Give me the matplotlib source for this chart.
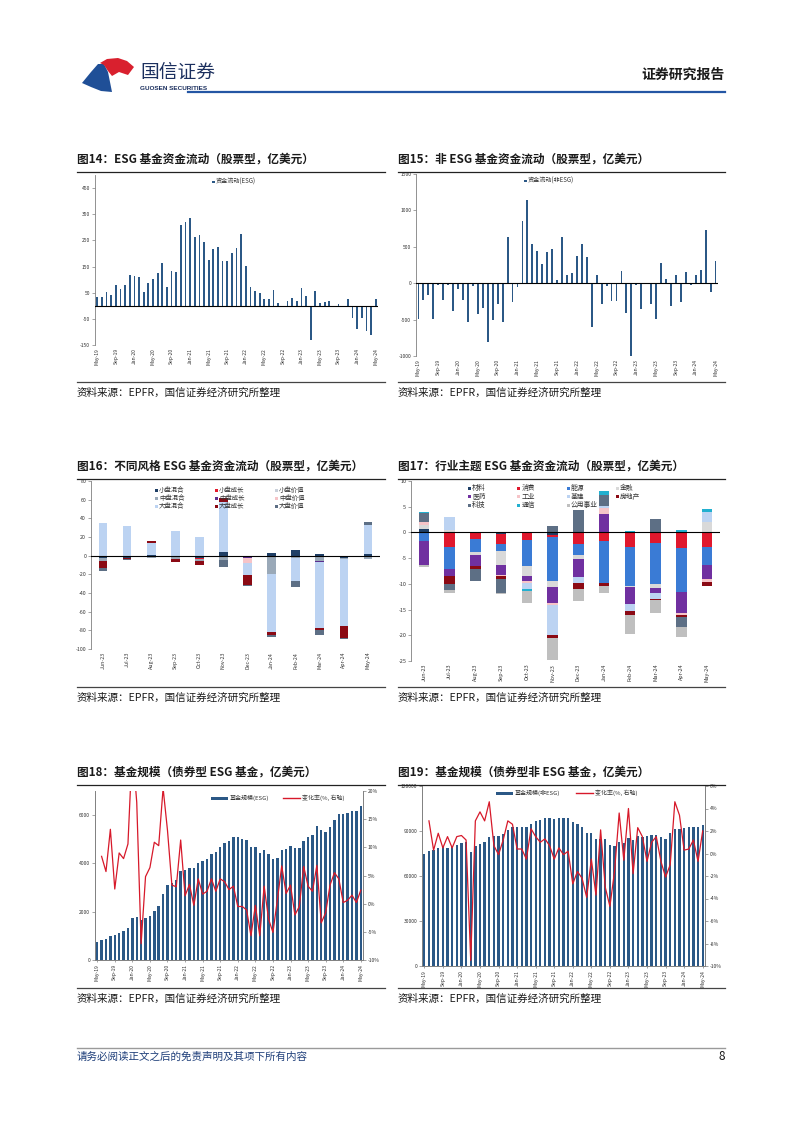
import numpy as np
import pandas as pd
import matplotlib
matplotlib.use('Agg')
import matplotlib.pyplot as plt
from matplotlib.patches import Rectangle, Polygon
from matplotlib.lines import Line2D

plt.rcParams['font.family'] = ['Noto Sans CJK SC', 'DejaVu Sans']
plt.rcParams['axes.unicode_minus'] = False

##############################################
## 数据
##############################################
months = list(pd.date_range('2019-05-01', periods=61, freq='MS').strftime('%b-%y'))
months12 = ['Jun-23', 'Jul-23', 'Aug-23', 'Sep-23', 'Oct-23', 'Nov-23',
            'Dec-23', 'Jan-24', 'Feb-24', 'Mar-24', 'Apr-24', 'May-24']

# 图14 ESG 股票型资金流动
esg_flow = [33, 32, 52, 41, 79, 66, 80, 118, 113, 111,
            54, 87, 104, 125, 163, 71, 132, 130, 308, 321,
            336, 262, 271, 243, 176, 218, 225, 173, 172, 200,
            220, 274, 152, 71, 56, 50, 27, 27, 62, 11,
            -3, 20, 29, 19, 68, 38, -131, 55, 11, 15,
            17, -3, 5, -4, 25, -45, -89, -48, -98, -111,
            25]

# 图15 非ESG 股票型资金流动
nonesg_flow = [-490, -225, -165, -486, -28, -225, -18, -380, -78, -234,
               -532, -41, -422, -340, -807, -505, -289, -537, 633, -261,
               -55, 858, 1138, 541, 436, 257, 422, 463, 50, 633,
               119, 142, 367, 541, 362, -596, 119, -289, -32, -238,
               -248, 170, -404, -1000, -18, -353, -5, -289, -495, 284,
               55, -316, 115, -252, 147, -23, 106, 188, 729, -119,
               307]

# 图16 不同风格
style_names = ['小盘混合', '小盘成长', '小盘价值', '中盘混合', '中盘成长', '中盘价值',
               '大盘混合', '大盘成长', '大盘价值']
small_blend = [-2, -3, 1, -1, -3, 3.5, 0, 2.5, 6.5, 2, -2, 2]
small_growth = [0, 0, 0, 0, -0.5, 0, 0, 0, 0, 0, 0, 0]
small_value = [0, 0, 0, 0, 0, 0.5, 0, 0, 0, 0, 0, 0]
mid_blend = [-3.5, 0, -2, -3, -2, -5, -1, -20, -2, -6, -2, -3.5]
mid_growth = [0, 0, 0, 0, 0, 0, -1.5, 0, 0, -1, 0, 0]
mid_value = [-0.5, 0, 0, 0, 0, 0, -5.5, 0, 0, 0, 0, 0]
large_blend = [35, 32, 13, 26, 20.5, 53, -12.5, -62, -25, -70, -71, 31]
large_growth = [-7, -1, 2, -3, -4, 5, -10.5, -3, 0, -3, -13, 0]
large_value = [-3, -1, -0.5, 0, 0, -7, -1, -2.5, -7, -4.5, -1.5, 3]

# 图17 行业主题
sector_names = ['材料', '消费', '能源', '金融', '医药', '工业', '基建', '房地产', '科技', '通信', '公用事业']
materials = [0.6, 0, 0, -0.3, 0, -0.5, 0, 0, 0, 0, 0, 0]
consumer = [0, -2.9, -1.2, -2.0, -1.4, -0.3, -2.3, -1.6, -2.8, -2.1, -3.0, -2.8]
energy = [-1.6, -4.2, -2.6, -1.3, -5.1, -8.7, -2.1, -8.3, -7.6, -8.0, -8.6, -3.6]
finance = [0.8, 0.5, -0.5, -2.8, -1.9, -1.1, -0.8, 0, -0.3, -0.8, 0, 1.95]
pharma = [-4.8, -1.3, -2.2, -1.8, -1.1, -3.2, -3.4, 3.6, -3.3, -0.9, -4.1, -2.7]
industry = [0.7, 0, 0, -0.2, -0.3, -0.3, 0, 1.1, 0, 0, -0.4, -0.5]
infra = [0, 2.5, 0, 0, -1.2, -5.8, -1.3, 0.4, -1.2, -1.1, 0, 2.1]
realestate = [0, -1.7, -0.6, -0.7, 0, -0.7, -1.1, -0.5, -0.9, -0.3, -0.4, -0.8]
tech = [1.6, -1.1, -2.3, -2.6, 0, 1.2, 4.35, 2.2, 0, 2.6, -1.9, 0]
telecom = [0.3, 0, 0, 0, -0.3, 0, 0, 0.7, 0.3, 0, 0.45, 0.6]
utilities = [-0.3, -0.6, 0, -0.3, -2.5, -4.2, -2.3, -1.3, -3.7, -2.4, -1.9, 0]

# 图18 债券型ESG基金规模 / 变化率
esg_bond_aum = [760, 830, 870, 980, 1030, 1120, 1210, 1340, 1740, 1790,
                1650, 1740, 1830, 2030, 2250, 2720, 3100, 3170, 3310, 3670,
                3710, 3830, 3830, 4010, 4080, 4190, 4370, 4480, 4660, 4830,
                4920, 5090, 5080, 5030, 4970, 4700, 4690, 4440, 4570, 4400,
                4170, 4210, 4540, 4590, 4740, 4650, 4630, 4920, 5090, 5170,
                5570, 5380, 5310, 5500, 5810, 6040, 6040, 6100, 6190, 6190,
                6360]
esg_bond_chg = [np.nan, 8.4, 5.7, 13.2, 2.6, 9.0, 8.0, 10.6, 28, 18,
                -7.1, 4.8, 6.4, 10.9, 10.3, 20.5, 13.0, 3.3, 3.0, 11.3,
                1.4, 3.4, -0.3, 4.4, 1.7, 2.2, 4.4, 2.2, 4.4, 3.9,
                2.5, 3.1, -0.5, -0.5, -1.1, -5.7, -0.3, -5.7, 3.1, -2.7,
                -5.1, 0.6, 6.7, 1.8, 3.3, -2.0, -0.5, 6.6, 3.1, 2.2,
                6.8, -3.4, -1.6, 3.3, 5.5, 4.4, 0.2, 0.6, 1.5, 0.2,
                2.4]

# 图19 债券型非ESG基金规模 / 变化率
nonesg_bond_aum = [75000, 77000, 77500, 78500, 79500, 79000, 79500, 81000, 82000, 82500,
                   76000, 80000, 81500, 82500, 86000, 86500, 86500, 88000, 91000, 93000,
                   93000, 93000, 93000, 95000, 96500, 97500, 98500, 98500, 98000, 98500,
                   98500, 98500, 96000, 95000, 92500, 89000, 88500, 85000, 84500, 85000,
                   80500, 80000, 83000, 82000, 85500, 84000, 86500, 86000, 86500, 87500,
                   87500, 86000, 85000, 88500, 91500, 91500, 92000, 93000, 92500, 93000,
                   94000]
nonesg_bond_chg = [np.nan, 2.9, 0.3, 1.8, 0.5, 1.5, 0.5, 1.5, 1.6, 1.2,
                   -9.5, 2.9, 3.7, 2.9, 4.6, 0.7, -0.1, 1.2, 2.9, 2.6,
                   0.4, 0.4, -0.5, 2.2, 1.5, 1.0, 1.3, 0.7, -0.5, 0.5,
                   -0.1, 0.2, -2.7, -1.6, -2.2, -3.9, -0.5, -3.7, 2.1, -3.0,
                   -4.7, -1.6, 3.6, -0.6, 4.0, -1.8, 2.3, 1.5, -0.7, 1.0,
                   1.5, -0.7, -2.1, -1.0, 4.6, 3.4, 0.3, 0.4, 1.2, -0.7,
                   2.0]

##############################################
## 画布 / 工具
##############################################
W, H = 802, 1133
fig = plt.figure(figsize=(W / 100, H / 100), dpi=100)
fig.patch.set_facecolor('white')

BAR = '#2b5886'
RED = '#d7192a'
TXT = '#333333'


def fx(x):
    return x / W


def fy(y):
    return 1 - y / H


def add_ax(x0, y0, x1, y1):
    return fig.add_axes([fx(x0), fy(y1), (x1 - x0) / W, (y1 - y0) / H])


def hline(x0, x1, y, color='black', lw=0.8):
    fig.add_artist(Line2D([fx(x0), fx(x1)], [fy(y), fy(y)], color=color, lw=lw,
                          transform=fig.transFigure))


def box_item(x, y, color, label, fs=5.2, w=3.2, h=3.2):
    fig.add_artist(Rectangle((fx(x), fy(y + h / 2)), w / W, h / H, color=color,
                             transform=fig.transFigure, lw=0))
    fig.text(fx(x + w + 1.2), fy(y), label, fontsize=fs, va='center', ha='left', color=TXT)


def line_item(x, y, color, label, fs=4.3, w=17):
    fig.add_artist(Line2D([fx(x), fx(x + w)], [fy(y), fy(y)], color=color, lw=1.0,
                          transform=fig.transFigure))
    fig.text(fx(x + w + 2), fy(y), label, fontsize=fs, va='center', ha='left', color=TXT)


def wide_item(x, y, color, label, fs=4.3, w=17):
    fig.add_artist(Rectangle((fx(x), fy(y + 1.5)), w / W, 3 / H, color=color,
                             transform=fig.transFigure, lw=0))
    fig.text(fx(x + w + 2), fy(y), label, fontsize=fs, va='center', ha='left', color=TXT)


def flow_style(ax, fs=3.6):
    for s in ['top', 'right', 'bottom']:
        ax.spines[s].set_visible(False)
    ax.spines['left'].set_color('#808080')
    ax.spines['left'].set_linewidth(0.6)
    ax.tick_params(axis='y', labelsize=fs, length=2, width=0.5, color='#808080',
                   pad=1.5, labelcolor=TXT)
    ax.tick_params(axis='x', labelsize=fs, length=0, pad=2, labelcolor=TXT)
    ax.axhline(0, color='black', lw=0.8, zorder=3)


def stacked(ax, series, colors, width):
    x = np.arange(len(series[0]))
    pos = np.zeros(len(x))
    neg = np.zeros(len(x))
    for vals, c in zip(series, colors):
        v = np.array(vals, dtype=float)
        base = np.where(v >= 0, pos, neg)
        ax.bar(x, v, width, bottom=base, color=c, lw=0)
        pos += np.where(v > 0, v, 0)
        neg += np.where(v < 0, v, 0)
    ax.set_xlim(-0.5, len(x) - 0.5)


def section(xl, xr, ty, title, sy):
    fig.text(fx(xl), fy(ty), title, fontsize=8.4, weight='bold', va='center', color='#1a1a1a')
    hline(xl, xr, ty + 13, '#222222', 0.9)
    hline(xl, xr, sy - 11, '#444444', 0.9)
    fig.text(fx(xl), fy(sy), '资料来源：EPFR，国信证券经济研究所整理', fontsize=7.6,
             va='center', color='#1a1a1a')


##############################################
## 页眉 / 页脚
##############################################
fig.add_artist(Polygon([(fx(82), fy(83)), (fx(91), fy(72)), (fx(98), fy(64)), (fx(104), fy(64)),
                        (fx(108), fy(72)), (fx(110), fy(82)), (fx(112), fy(92)), (fx(101), fy(91)),
                        (fx(91), fy(87))],
                       closed=True, color='#1f4f97', transform=fig.transFigure, lw=0))
fig.add_artist(Polygon([(fx(100), fy(63)), (fx(107), fy(59)), (fx(118), fy(58)), (fx(127), fy(61)),
                        (fx(134), fy(67)), (fx(128), fy(75)), (fx(119), fy(72)), (fx(112), fy(76)),
                        (fx(108), fy(71)), (fx(104), fy(65))],
                       closed=True, color='#d9202e', transform=fig.transFigure, lw=0))
fig.text(fx(140), fy(72), '国信证券', fontsize=13.5, color='#1b2f5e', va='center')
fig.text(fx(140), fy(88), 'GUOSEN SECURITIES', fontsize=4.6, color='#1b2f5e', va='center',
         weight='bold', family=['Liberation Sans', 'DejaVu Sans'])
fig.text(fx(725), fy(75), '证券研究报告', fontsize=10, weight='bold', ha='right', va='center',
         color='#1a1a1a')
hline(188, 725, 92, '#2456a4', 1.6)

hline(77, 725, 1048, '#9a9a9a', 1.0)
fig.text(fx(77), fy(1057), '请务必阅读正文之后的免责声明及其项下所有内容', fontsize=7.6,
         color='#1f3f7a', va='center', style='italic')
fig.text(fx(725), fy(1057), '8', fontsize=8.5, ha='right', va='center', color='#1a1a1a')

section(77, 385, 159, '图14：ESG 基金资金流动（股票型，亿美元）', 393)
section(398, 725, 159, '图15：非 ESG 基金资金流动（股票型，亿美元）', 393)
section(77, 385, 466, '图16：不同风格 ESG 基金资金流动（股票型，亿美元）', 698)
section(398, 725, 466, '图17：行业主题 ESG 基金资金流动（股票型，亿美元）', 698)
section(77, 385, 772, '图18：基金规模（债券型 ESG 基金，亿美元）', 999)
section(398, 725, 772, '图19：基金规模（债券型非 ESG 基金，亿美元）', 999)

x61 = np.arange(len(months))
tick_pos = x61[::4]
tick_lab = [months[i] for i in tick_pos]

##############################################
## 图14
##############################################
ax = add_ax(95, 175, 378, 345)
ax.bar(x61, esg_flow, 0.38, color=BAR, lw=0)
ax.set_xlim(-0.5, 60.5)
ax.set_ylim(-150, 500)
ax.set_yticks(range(-150, 451, 100))
ax.set_xticks(tick_pos)
ax.set_xticklabels(tick_lab, rotation=90)
flow_style(ax)
box_item(212, 182, BAR, '资金流动(ESG)', fs=4.4, w=2.5, h=2.5)

##############################################
## 图15
##############################################
ax = add_ax(416, 174, 718, 356)
ax.bar(x61, nonesg_flow, 0.38, color=BAR, lw=0)
ax.set_xlim(-0.5, 60.5)
ax.set_ylim(-1000, 1500)
ax.set_yticks(range(-1000, 1501, 500))
ax.set_xticks(tick_pos)
ax.set_xticklabels(tick_lab, rotation=90)
flow_style(ax)
box_item(524, 181, BAR, '资金流动(非ESG)', fs=4.4, w=2.5, h=2.5)

##############################################
## 图16
##############################################
style_colors = ['#1f3f66', '#e31a2b', '#c9d0da', '#9aa9b8', '#5b2d8e', '#f6c4c8',
                '#bcd3f2', '#8b0a14', '#5d6f85']
ax = add_ax(91, 481, 380, 649)
stacked(ax, [small_blend, small_growth, small_value, mid_blend, mid_growth, mid_value,
             large_blend, large_growth, large_value], style_colors, 0.36)
ax.set_ylim(-100, 80)
ax.set_yticks(range(-100, 81, 20))
ax.set_xticks(range(12))
ax.set_xticklabels(months12, rotation=90)
flow_style(ax, 3.8)
for i, (nm, c) in enumerate(zip(style_names, style_colors)):
    box_item(155 + 60 * (i % 3), 490 + 8.2 * (i // 3), c, nm, fs=4.6, w=3, h=3)

##############################################
## 图17
##############################################
sector_colors = ['#1f3f66', '#e0182d', '#3a7bd5', '#d9d9d9', '#7030a0', '#f6c4c8',
                 '#bcd3f2', '#8b0a14', '#5d6f85', '#22b0d0', '#bfbfbf']
ax = add_ax(411, 481, 720, 661)
stacked(ax, [materials, consumer, energy, finance, pharma, industry, infra,
             realestate, tech, telecom, utilities], sector_colors, 0.4)
ax.set_ylim(-25, 10)
ax.set_yticks(range(-25, 11, 5))
ax.set_xticks(range(12))
ax.set_xticklabels(months12, rotation=90)
flow_style(ax, 3.9)
for i, (nm, c) in enumerate(zip(sector_names, sector_colors)):
    box_item(468 + 49.3 * (i % 4), 488 + 8.6 * (i // 4), c, nm, fs=4.9, w=3, h=3)


##############################################
## 图18 / 图19
##############################################
def aum_chart(box, aum, chg, ylim, yticks, rlim, rticks, width):
    ax = add_ax(*box)
    ax.bar(x61, aum, width, color=BAR, lw=0)
    ax.set_xlim(-0.5, 60.5)
    ax.set_ylim(*ylim)
    ax.set_yticks(yticks)
    ax.set_xticks(tick_pos)
    ax.set_xticklabels(tick_lab, rotation=90)
    ax2 = ax.twinx()
    ax2.plot(x61, chg, color=RED, lw=0.9)
    ax2.set_ylim(*rlim)
    ax2.set_yticks(rticks)
    ax2.set_yticklabels(['%d%%' % v for v in rticks])
    for a in (ax, ax2):
        a.spines['top'].set_visible(False)
        for s in ['left', 'right', 'bottom']:
            a.spines[s].set_color('#808080')
            a.spines[s].set_linewidth(0.6)
        a.tick_params(labelsize=3.6, length=2, width=0.5, color='#808080', pad=1.5,
                      labelcolor=TXT)
    ax.tick_params(axis='x', length=1.5, pad=1.5)
    return ax


aum_chart((95, 791, 363, 960), esg_bond_aum, esg_bond_chg, (0, 7000), [0, 2000, 4000, 6000],
          (-10, 20), list(range(-10, 21, 5)), 0.55)
wide_item(211, 798, BAR, '基金规模(ESG)')
line_item(283, 798, RED, '变化率(%, 右轴)')

aum_chart((422, 786, 705, 966), nonesg_bond_aum, nonesg_bond_chg, (0, 120000),
          list(range(0, 120001, 30000)), (-10, 6), list(range(-10, 7, 2)), 0.5)
wide_item(496, 793, BAR, '基金规模(非ESG)')
line_item(576, 793, RED, '变化率(%, 右轴)')

fig.savefig('out.png', dpi=100)
